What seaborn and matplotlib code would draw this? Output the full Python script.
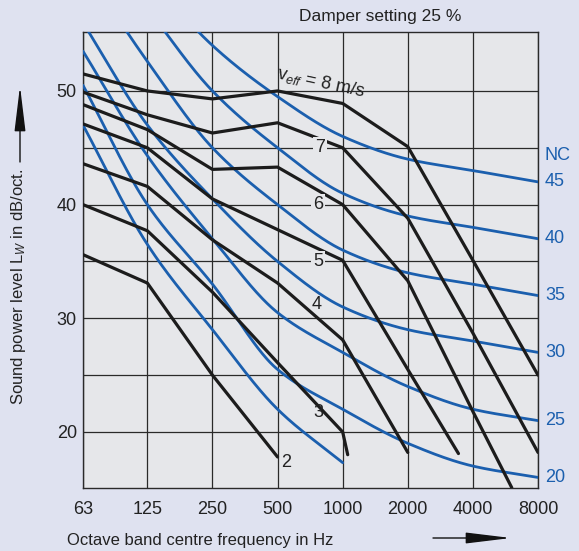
import numpy as np
import pandas as pd
import matplotlib
matplotlib.use("Agg")
import matplotlib.pyplot as plt
from matplotlib.ticker import NullLocator
import seaborn as sns

# ---------------- data ----------------
freqs = [63, 125, 250, 500, 1000, 2000, 4000, 8000]
freq_labels = ["63", "125", "250", "500", "1000", "2000", "4000", "8000"]

# NC curves (sound power level, dB) read at octave bands
nc15 = [47, 36.5, 29, 22, 17.3]
nc20 = [50.5, 40, 33, 25.5, 22, 19, 17, 16]
nc25 = [53.5, 44.3, 37, 30.5, 27, 24, 22, 21]
nc30 = [56, 47, 40.5, 35, 31, 29, 28, 27]
nc35 = [61, 52.6, 45, 40, 36, 34, 33, 32]
nc40 = [65, 57.3, 50, 45, 41, 39, 38, 37]
nc45 = [67.5, 60.3, 54, 49.5, 46, 44, 43, 42]
nc_names = ["15", "20", "25", "30", "35", "40", "45"]
nc_curves = [nc15, nc20, nc25, nc30, nc35, nc40, nc45]
nc_labelled = ["20", "25", "30", "35", "40", "45"]

# duct velocity curves v_eff (m/s): frequency points and levels
v8_f = [63, 125, 250, 500, 1000, 2000, 4000, 8000]
v8_l = [51.5, 50.0, 49.3, 50.0, 48.9, 45.1, 35.1, 25.0]
v7_f = [63, 125, 250, 500, 1000, 2000, 4000, 8000]
v7_l = [49.9, 47.9, 46.3, 47.2, 45.0, 38.8, 28.7, 18.2]
v6_f = [63, 125, 250, 500, 1000, 2000, 4000, 6050]
v6_l = [48.8, 46.6, 43.1, 43.3, 40.0, 33.3, 21.8, 15.1]
v5_f = [63, 125, 250, 500, 1000, 2000, 3430]
v5_l = [47.1, 45.0, 40.5, 37.8, 35.1, 25.5, 18.1]
v4_f = [63, 125, 250, 500, 1000, 2000]
v4_l = [43.6, 41.6, 36.9, 33.1, 28.1, 18.2]
v3_f = [63, 125, 250, 500, 1000, 1055]
v3_l = [40.0, 37.7, 32.3, 26.1, 20.0, 18.0]
v2_f = [63, 125, 250, 500]
v2_l = [35.6, 33.1, 25.0, 17.8]
v_f = [v2_f, v3_f, v4_f, v5_f, v6_f, v7_f, v8_f]
v_l = [v2_l, v3_l, v4_l, v5_l, v6_l, v7_l, v8_l]

# label positions for the velocity curves (freq, level, text)
v_label_f = [545, 769, 755, 769, 769, 785]
v_label_l = [17.3, 21.7, 31.2, 35.0, 40.0, 45.0]
v_label_t = ["2", "3", "4", "5", "6", "7"]
v_label_boxed = ["5", "6", "7"]

# ---------------- style ----------------
sns.set_style("white")
plt.rcParams["font.family"] = ["Liberation Sans", "DejaVu Sans"]
plt.rcParams["mathtext.fontset"] = "custom"
plt.rcParams["mathtext.rm"] = "Liberation Sans"
plt.rcParams["mathtext.it"] = "Liberation Sans:italic"

FIG_BG = "#dfe2f0"
AX_BG = "#e6e7ea"
BLUE = "#1b5fae"
BLACK = "#1c1c1c"
TXT = "#222222"

W, H = 579, 551
fig = plt.figure(figsize=(W / 100, H / 100), dpi=100, facecolor=FIG_BG)
ax = fig.add_axes([83 / W, 1 - 488 / H, 455 / W, (488 - 32.3) / H])
ax.set_facecolor(AX_BG)


def pchip_curve(xs, ys, n=300):
    x = np.log2(np.asarray(xs, float))
    y = np.asarray(ys, float)
    h = np.diff(x)
    d = np.diff(y) / h
    m = np.zeros_like(y)
    m[0] = d[0]
    m[-1] = d[-1]
    for k in range(1, len(y) - 1):
        if d[k - 1] * d[k] <= 0:
            m[k] = 0
        else:
            w1 = 2 * h[k] + h[k - 1]
            w2 = h[k] + 2 * h[k - 1]
            m[k] = (w1 + w2) / (w1 / d[k - 1] + w2 / d[k])
    xn = np.linspace(x[0], x[-1], n)
    idx = np.clip(np.searchsorted(x, xn) - 1, 0, len(h) - 1)
    t = (xn - x[idx]) / h[idx]
    h00 = 2 * t**3 - 3 * t**2 + 1
    h10 = t**3 - 2 * t**2 + t
    h01 = -2 * t**3 + 3 * t**2
    h11 = t**3 - t**2
    yn = h00 * y[idx] + h10 * h[idx] * m[idx] + h01 * y[idx + 1] + h11 * h[idx] * m[idx + 1]
    return 2**xn, yn


# NC curves
for name, vals in zip(nc_names, nc_curves):
    fx, fy = pchip_curve(freqs[: len(vals)], vals)
    sns.lineplot(x=fx, y=fy, ax=ax, color=BLUE, lw=2.0, sort=False,
                 estimator=None, zorder=3)

# velocity curves
for fs, ls in zip(v_f, v_l):
    sns.lineplot(x=fs, y=ls, ax=ax, color=BLACK, lw=2.3, sort=False,
                 estimator=None, zorder=4)

ax.set_xscale("log", base=2)
ax.set_xlim(63, 8000)
ax.set_ylim(15.07, 55.16)
ax.set_xticks(freqs)
ax.set_xticklabels(freq_labels)
ax.xaxis.set_minor_locator(NullLocator())
ax.set_yticks([20, 30, 40, 50])
ax.set_yticks([25, 35, 45], minor=True)
ax.tick_params(axis="both", which="both", length=0)
ax.tick_params(axis="y", pad=4.5, labelsize=13, labelcolor=TXT)
ax.tick_params(axis="x", pad=9.5, labelsize=13, labelcolor=TXT)
ax.grid(True, axis="x", which="major", color="#2a2a2a", lw=0.9)
ax.grid(True, axis="y", which="both", color="#2a2a2a", lw=0.9)
ax.set_axisbelow(True)
for s in ax.spines.values():
    s.set_color("#2a2a2a")
    s.set_linewidth(1.0)
ax.set_xlabel("")
ax.set_ylabel("")

# velocity labels
for f, l, t in zip(v_label_f, v_label_l, v_label_t):
    box = dict(boxstyle="square,pad=0.12", fc=AX_BG, ec="none") if t in v_label_boxed else None
    ax.text(f, l, t, ha="center", va="center", fontsize=13, color=TXT, zorder=5,
            bbox=box)
ax.text(790, 50.75, r"v$_{\mathit{eff}}$ = 8 m/s", ha="center", va="center",
        rotation=-12, rotation_mode="anchor", fontsize=13, color=TXT, zorder=5)

# NC labels on right
xr = 1 + 7 / 455
ax.text(xr, 44.3, "NC", transform=ax.get_yaxis_transform(), ha="left",
        va="center", fontsize=13, color=BLUE, clip_on=False)
for name, vals in zip(nc_names, nc_curves):
    if name in nc_labelled:
        ax.text(xr, vals[-1], name, transform=ax.get_yaxis_transform(),
                ha="left", va="center", fontsize=13, color=BLUE, clip_on=False)

# titles and axis labels
fig.text(380 / W, 1 - 17 / H, "Damper setting 25 %", ha="center", va="center",
         fontsize=12.5, color=TXT)
fig.text(67 / W, 1 - 540 / H, "Octave band centre frequency in Hz", ha="left",
         va="center", fontsize=12, color=TXT)
fig.text(19 / W, 1 - 287 / H, "Sound power level L$_W$ in dB/oct.", ha="center",
         va="center", rotation=90, fontsize=12, color=TXT)

arrow = dict(arrowstyle="-|>,head_length=1.4,head_width=0.17", color="#111111",
             lw=1.0, mutation_scale=20, shrinkA=0, shrinkB=0)
fig.add_artist(matplotlib.patches.FancyArrowPatch(
    (20 / W, 1 - 162 / H), (20 / W, 1 - 86 / H), transform=fig.transFigure, **arrow))
fig.add_artist(matplotlib.patches.FancyArrowPatch(
    (433 / W, 1 - 538 / H), (511 / W, 1 - 538 / H), transform=fig.transFigure, **arrow))

fig.savefig("out.png", dpi=100, facecolor=FIG_BG)
